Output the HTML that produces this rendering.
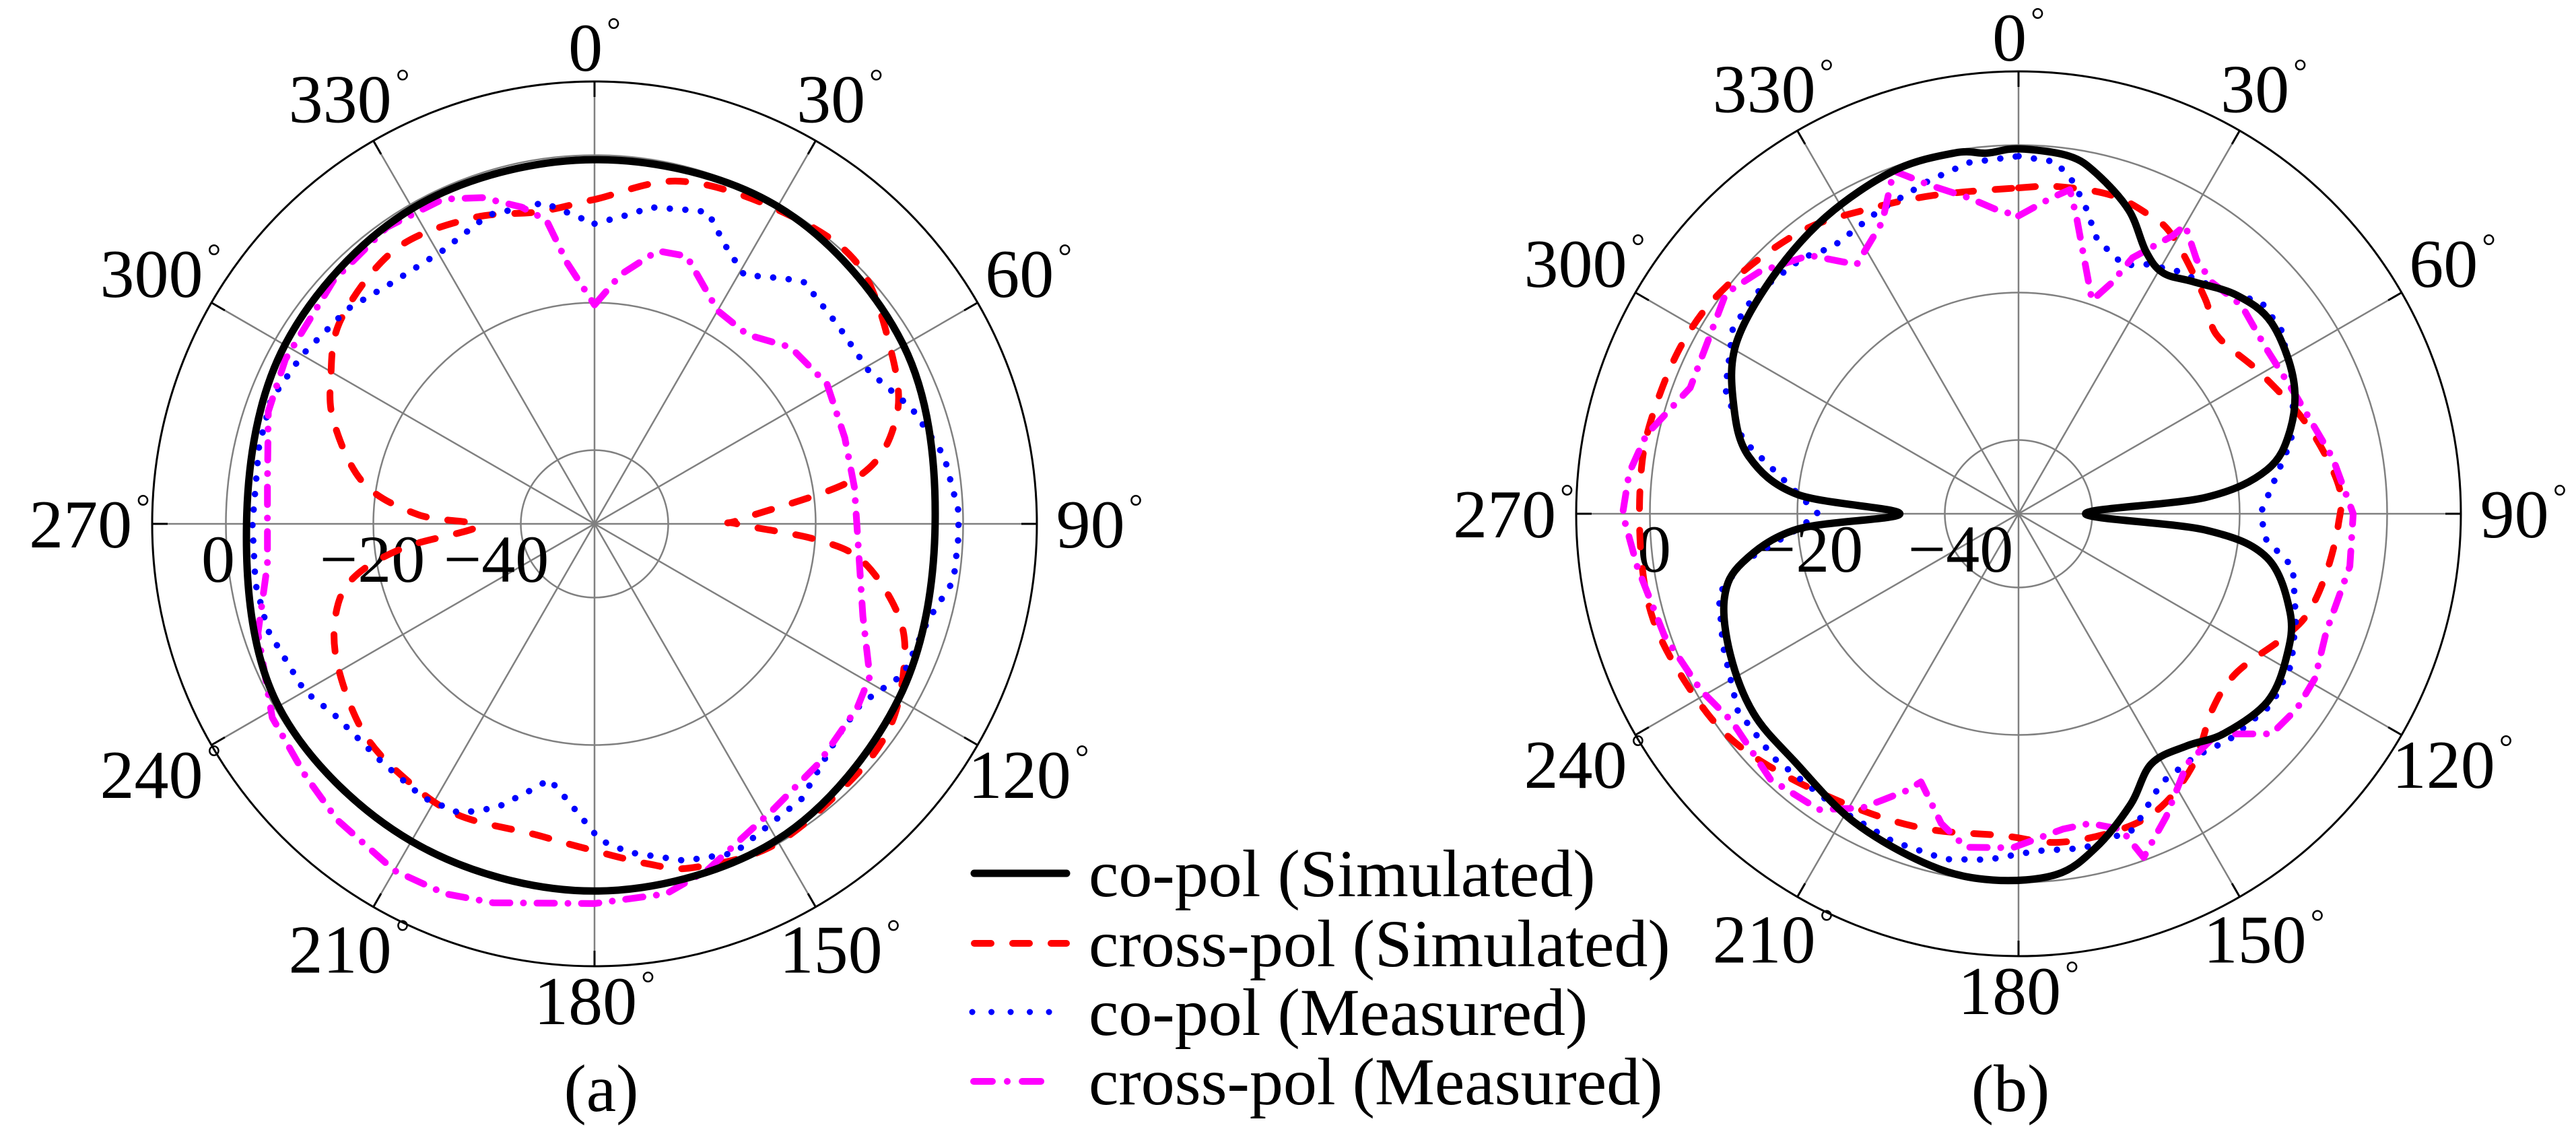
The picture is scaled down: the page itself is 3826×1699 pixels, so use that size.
<!DOCTYPE html>
<html><head><meta charset="utf-8"><style>
html,body{margin:0;padding:0;background:#fff;}
svg{display:block;}
text{font-family:"Liberation Serif","Times New Roman",serif;fill:#000;}
</style></head><body>
<svg id="chart" xmlns="http://www.w3.org/2000/svg" width="3826" height="1699" viewBox="0 0 3826 1699">
<g id="plotA"></g>
<g id="plotB"></g>
<g id="legend">
  <line x1="1447" y1="1297" x2="1584" y2="1297" stroke="#000" stroke-width="11" stroke-linecap="round"/>
  <text x="1617" y="1331" font-size="100">co-pol (Simulated)</text>
  <line x1="1447" y1="1401" x2="1584" y2="1401" stroke="#ff0000" stroke-width="10" stroke-linecap="round" stroke-dasharray="25 32"/>
  <text x="1617" y="1435" font-size="100">cross-pol (Simulated)</text>
  <line x1="1444" y1="1503" x2="1560" y2="1503" stroke="#0000ff" stroke-width="9" stroke-linecap="round" stroke-dasharray="0.1 28.4"/>
  <text x="1617" y="1537" font-size="100">co-pol (Measured)</text>
  <line x1="1446" y1="1606" x2="1558" y2="1606" stroke="#ff00ff" stroke-width="10" stroke-linecap="round" stroke-dasharray="28 22 0.1 22"/>
  <text x="1617" y="1640" font-size="100">cross-pol (Measured)</text>
</g>
<text x="893" y="1650" font-size="100" text-anchor="middle">(a)</text>
<text x="2986" y="1650" font-size="100" text-anchor="middle">(b)</text>
</svg>
<script>
// ---- data (angle in degrees, value in dB) ----
const angleTicks = [0,30,60,90,120,150,180,210,240,270,300,330];
const angleTickLabels = ["0","30","60","90","120","150","180","210","240","270","300","330"];
const radialTicks = [0,-20,-40];
const radialTickLabels = ["0","\u221220","\u221240"];

const aCoSimAng = [0,30,60,90,120,150,180,210,240,270,300,330];
const aCoSimVal = [-0.6,-0.3,-1.6,-3.8,-2.4,-0.5,-0.2,-0.3,-0.5,-2.8,-1.5,-0.6];

const aXSimAng = [0,14,30,45,60,71,80,88,90,94,98,107,115,125,136,151,164,171,183,191,205,216,228,242,252,258,263,269,273,280,291,299,309,324,338,350];
const aXSimVal = [-6.0,-2.1,-0.7,0.2,-3.5,-6.8,-13.9,-29.9,-30.7,-20,-13.2,-6.8,-3.7,-1.3,-0.8,-0.1,-1.5,-3.3,-6.2,-7.1,-6.4,-6.9,-7.8,-10.4,-13.3,-17.1,-24.2,-34.2,-26,-18.2,-12.2,-9.1,-5.8,-4.0,-5.3,-7.0];

const aCoMeasAng = [0,7,10,17,20,25,31,38,41,51,61,70,79,88,92,99,106,116,124,131,143,157,165,174,179,186,190,193,199,205,212,222,234,240,252,260,270,283,291,300,311,320,331,341,351];
const aCoMeasVal = [-9.3,-7.6,-6.4,-5.5,-5.0,-8.2,-10.6,-7.8,-6.6,-7.4,-7.4,-4.2,-1.7,-0.6,-0.6,-0.7,-2.9,-3.4,-6.4,-6.2,-3.3,-1.5,-2.7,-5.2,-7.1,-12.6,-14.8,-13.1,-9.3,-6.7,-6.2,-6.7,-6.2,-4.6,-3.4,-3.3,-3.6,-3.3,-3.0,-4.2,-5.6,-7.3,-7.6,-5.7,-5.9];

const aXMeasAng = [0,6,13,19,30,39,48,59,71,82,99,109,119,125,137,148,162,169,180,195,202,210,221,229,239,252,263,277,289,298,313,325,335,341,347,351,354];
const aXMeasVal = [-20.3,-16,-12,-11.6,-16.6,-17,-14.2,-13.2,-14.1,-14.4,-13.6,-11.5,-7.3,-6.5,-5.5,-4.3,-0.6,1.1,1.5,3.2,4.1,4.3,3.2,2.0,1.0,-2.0,-5.3,-5.3,-3.2,-2.5,-1.6,-0.9,-1.4,-3.2,-5.9,-8.3,-14.4];

const bCoSimAng = [0,8,13,20,26,31,37,45,53,64,73,80,85,90,95,100,110,118,127,137,144,152,159,167,174,184,194,208,222,233,244,254,260,266,270,275,282,291,301,314,327,340,350,355];
const bCoSimVal = [-0.5,-1.0,-2.7,-6.2,-10.5,-11.9,-10.6,-8.1,-7.0,-8.5,-11.5,-15.8,-24.5,-40.9,-24.5,-15.8,-10.8,-8.8,-7.7,-9.2,-11.1,-11.6,-7.7,-3.5,-0.8,-0.2,-0.8,-2.6,-4.7,-5.0,-6.5,-8.5,-12,-19.9,-33.9,-19.9,-12.6,-8.6,-5.3,-3.7,-2.0,-0.5,-0.3,-0.9];

const bXSimAng = [0,7,16,23,29,41,48,60,73,85,92,101,109,115,126,135,145,154,162,173,183,196,208,222,233,244,254,264,276,285,297,308,322,333,345];
const bXSimVal = [-5.8,-5.3,-5.0,-5.7,-6.9,-11.4,-13.8,-12,-9.0,-6.4,-6.6,-7.5,-8.5,-10.3,-13.4,-12.7,-8.6,-5.8,-5.0,-5.1,-6.3,-5.5,-4.5,-2.4,-0.3,0.7,1.6,1.5,1.5,1.4,1.1,0.2,-1.6,-3.8,-5.3];

const bCoMeasAng = [0,6,9,12,16,23,27,33,42,49,55,65,75,81,90,96,101,111,119,127,137,144,152,160,169,177,185,192,201,212,225,235,246,255,260,266,270,278,285,293,303,310,320,325,335,345,352];
const bCoMeasVal = [-1.5,-2.0,-4.1,-7.0,-11.3,-13.4,-12,-10.7,-9.1,-6.3,-6.5,-8.8,-11.7,-14.4,-17.2,-16.2,-12.1,-9.7,-7.7,-7.0,-8.1,-9.3,-8.7,-4.4,-3.8,-4.2,-2.9,-2.1,-2.4,-3.1,-3.1,-3.5,-6.1,-7.9,-12,-19.9,-22.8,-18,-11.3,-6.8,-3.8,-3.5,-4.6,-5.9,-4.8,-3.2,-1.9];

const bXMeasAng = [0,6,9,11,19,22,24,29,30,35,40,47,56,67,80,90,99,111,119,125,131,138,146,154,160,162,167,172,181,189,194,200,202,208,214,223,234,241,251,262,270,276,282,291,299,307,313,321,327,335,340,345,351,356];
const bXMeasVal = [-9.6,-6.9,-5.5,-8.9,-19.4,-16.2,-12,-6.9,-4.8,-7.9,-9.1,-8.6,-9.6,-9.1,-6.7,-4.6,-4.5,-5.3,-4.0,-3.9,-4.5,-9.8,-9.1,-4.3,-0.4,-5.0,-6.9,-6.8,-4.7,-4.2,-6.7,-11.3,-9.5,-4.8,-1.6,-0.7,-2.0,-0.7,0.8,2.2,3.7,3.1,1.6,-2.3,-1.8,-0.3,-1.9,-4.9,-9.7,-6.3,-0.5,-3.9,-6.6,-8.7];

// ---- geometry ----
const NS = "http://www.w3.org/2000/svg";
const R_OUT = 657, DB_MIN = -50, DB_MAX = 10;
function rScale(db){ return (db - DB_MIN) / (DB_MAX - DB_MIN) * R_OUT; }
function pt(cx, cy, angDeg, db){
  const a = angDeg * Math.PI / 180, r = Math.max(0, rScale(db));
  return [cx + r * Math.sin(a), cy - r * Math.cos(a)];
}
function mk(tag, attrs, parent){
  const el = document.createElementNS(NS, tag);
  for (const k in attrs) el.setAttribute(k, attrs[k]);
  parent.appendChild(el);
  return el;
}
function smoothPath(pts){
  const n = pts.length; let d = "M" + pts[0][0].toFixed(1) + "," + pts[0][1].toFixed(1);
  for (let i = 0; i < n; i++){
    const p0 = pts[(i - 1 + n) % n], p1 = pts[i], p2 = pts[(i + 1) % n], p3 = pts[(i + 2) % n];
    const c1x = p1[0] + (p2[0] - p0[0]) / 6, c1y = p1[1] + (p2[1] - p0[1]) / 6;
    const c2x = p2[0] - (p3[0] - p1[0]) / 6, c2y = p2[1] - (p3[1] - p1[1]) / 6;
    d += " C" + c1x.toFixed(1) + "," + c1y.toFixed(1) + " " + c2x.toFixed(1) + "," + c2y.toFixed(1) + " " + p2[0].toFixed(1) + "," + p2[1].toFixed(1);
  }
  return d + "Z";
}
function linePath(pts){
  return "M" + pts.map(p => p[0].toFixed(1) + "," + p[1].toFixed(1)).join(" L") + "Z";
}

function drawPlot(g, cx, cy, radLabelDx, suffix, series){
  radialTicks.forEach((db, i) => {
    const c = mk("circle", {cx: cx, cy: cy, r: rScale(db), fill: "none", stroke: "#808080", "stroke-width": 2.5}, g);
    
    
  });
  angleTicks.forEach((ang) => {
    const a = ang * Math.PI / 180;
    const s = mk("line", {x1: cx, y1: cy, x2: cx + R_OUT * Math.sin(a), y2: cy - R_OUT * Math.cos(a), stroke: "#808080", "stroke-width": 2.5}, g);
    
    
    const t = mk("line", {x1: cx + (R_OUT - 23) * Math.sin(a), y1: cy - (R_OUT - 23) * Math.cos(a), x2: cx + R_OUT * Math.sin(a), y2: cy - R_OUT * Math.cos(a), stroke: "#000", "stroke-width": 3}, g);
    
    
  });
  const oc = mk("circle", {cx: cx, cy: cy, r: R_OUT, fill: "none", stroke: "#000", "stroke-width": 3}, g);
  
  
  angleTicks.forEach((ang, i) => {
    const a = ang * Math.PI / 180, R = 708 + 42 * Math.abs(Math.sin(a));
    const x = cx + R * Math.sin(a), y = cy - R * Math.cos(a) + 35;
    const t = mk("text", {x: x.toFixed(1), y: y.toFixed(1), "font-size": 102, "text-anchor": "middle"}, g);
    
    
    t.appendChild(document.createTextNode(angleTickLabels[i]));
    const sp = mk("tspan", {"font-size": 52, dy: -43, dx: 6}, t);
    sp.textContent = "\u00B0";
  });
  radialTicks.forEach((db, i) => {
    const t = mk("text", {x: cx + radLabelDx[i], y: cy + 86, "font-size": 100, "text-anchor": "middle"}, g);
    
    
    t.textContent = radialTickLabels[i];
  });
  series.forEach(s => {
    const pts = s.ang.map((a, i) => pt(cx, cy, a, s.val[i]));
    const p = mk("path", {d: s.smooth ? smoothPath(pts) : linePath(pts), fill: "none", stroke: s.color, "stroke-width": s.w, "stroke-linecap": "round", "stroke-linejoin": "round"}, g);
    if (s.dash) p.setAttribute("stroke-dasharray", s.dash);
    
    
  });
}

drawPlot(document.getElementById("plotA"), 883, 778, [-559, -330, -146], "a", [
  {ang: aXSimAng, val: aXSimVal, color: "#ff0000", w: 10, dash: "25 32", smooth: true, name: "cross-pol-simulated-line"},
  {ang: aCoMeasAng, val: aCoMeasVal, color: "#0000ff", w: 9.5, dash: "0.1 23", smooth: false, name: "co-pol-measured-line"},
  {ang: aXMeasAng, val: aXMeasVal, color: "#ff00ff", w: 10, dash: "26 20 0.1 20", smooth: false, name: "cross-pol-measured-line"},
  {ang: aCoSimAng, val: aCoSimVal, color: "#000000", w: 11, dash: null, smooth: true, name: "co-pol-simulated-line"}
]);
drawPlot(document.getElementById("plotB"), 2998, 763, [-541, -309, -86], "b", [
  {ang: bXSimAng, val: bXSimVal, color: "#ff0000", w: 10, dash: "25 32", smooth: true, name: "cross-pol-simulated-line"},
  {ang: bCoMeasAng, val: bCoMeasVal, color: "#0000ff", w: 9.5, dash: "0.1 23", smooth: false, name: "co-pol-measured-line"},
  {ang: bXMeasAng, val: bXMeasVal, color: "#ff00ff", w: 10, dash: "26 20 0.1 20", smooth: false, name: "cross-pol-measured-line"},
  {ang: bCoSimAng, val: bCoSimVal, color: "#000000", w: 11, dash: null, smooth: true, name: "co-pol-simulated-line"}
]);
</script>
</body></html>
